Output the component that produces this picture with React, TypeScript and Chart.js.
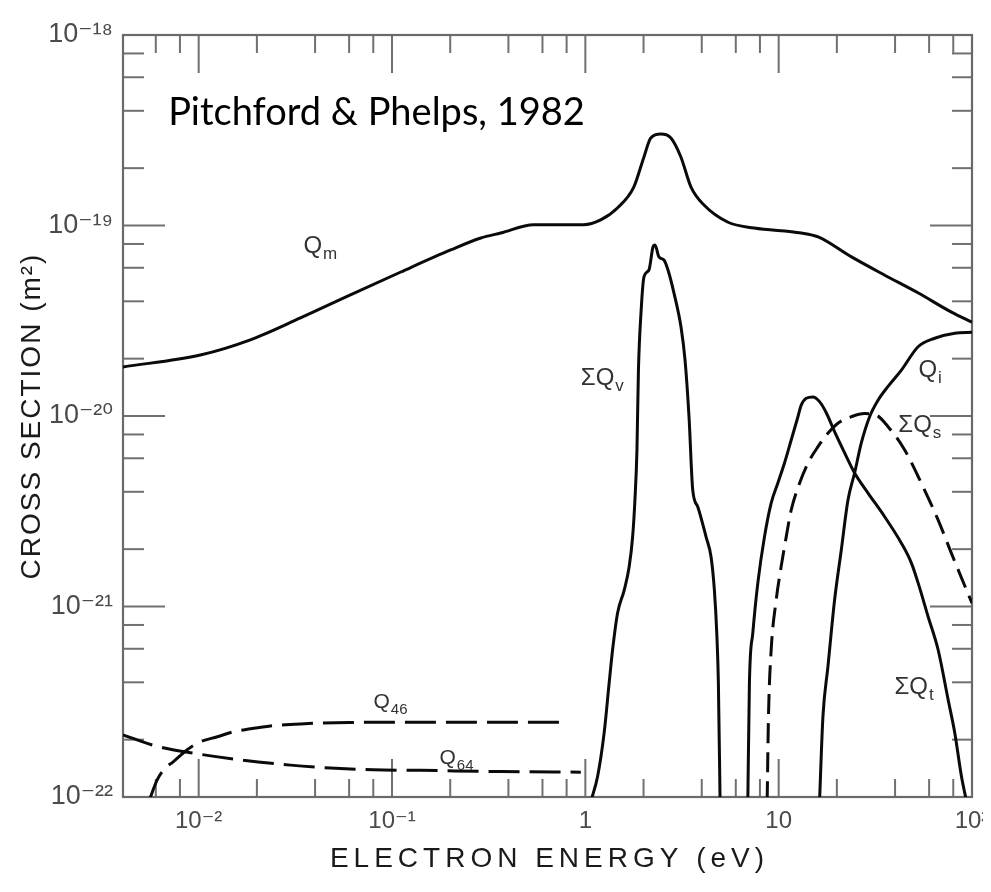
import React, { useEffect, useRef } from "react";
import { Chart, registerables } from "chart.js";

Chart.register(...registerables);

// ---- axes ----
const X_MIN = 0.00406;
const X_MAX = 100;
const Y_MIN = 1e-22;
const Y_MAX = 1e-18;
const X_TICKS = [0.01, 0.1, 1, 10, 100];
const X_TICK_LABELS = ["10⁻²", "10⁻¹", "1", "10", "10²"];
const Y_TICKS = [1e-22, 1e-21, 1e-20, 1e-19, 1e-18];
const Y_TICK_LABELS = ["10⁻²²", "10⁻²¹", "10⁻²⁰", "10⁻¹⁹", "10⁻¹⁸"];
const MINOR_MULTIPLIERS = [2, 4, 6, 8];

// ---- data (energy in eV, cross section in m^2) ----
const qmEnergy = [0.00406, 0.0102, 0.0185, 0.0336, 0.0609, 0.111, 0.201, 0.288, 0.365, 0.541, 0.98, 1.2, 1.47, 1.78, 2.01, 2.18, 2.46, 2.77, 3.12, 3.52, 4.11, 5.47, 7.46, 13.1, 16.0, 23.8, 35.2, 52.8, 78.3, 100];
const qmSigma = [1.81e-20, 2.09e-20, 2.51e-20, 3.27e-20, 4.32e-20, 5.7e-20, 7.44e-20, 8.6e-20, 9.13e-20, 1.01e-19, 1.01e-19, 1.07e-19, 1.24e-19, 1.59e-19, 2.29e-19, 2.88e-19, 3.02e-19, 2.88e-19, 2.29e-19, 1.59e-19, 1.28e-19, 1.04e-19, 9.7e-20, 9.13e-20, 8.71e-20, 6.84e-20, 5.5e-20, 4.42e-20, 3.51e-20, 3.11e-20];

const qvEnergy = [1.068, 1.157, 1.251, 1.328, 1.383, 1.468, 1.589, 1.686, 1.756, 1.805, 1.849, 1.882, 1.94, 2.01, 2.133, 2.238, 2.292, 2.403, 2.551, 2.676, 2.874, 3.125, 3.278, 3.438, 3.593, 3.814, 4.211, 4.47, 4.65, 4.784, 4.877, 4.977];
const qvSigma = [9.5e-23, 1.28e-22, 2.17e-22, 3.97e-22, 5.91e-22, 9.25e-22, 1.22e-21, 1.62e-21, 2.32e-21, 3.62e-21, 6.63e-21, 1.74e-20, 3.47e-20, 5.37e-20, 5.84e-20, 7.71e-20, 7.91e-20, 6.84e-20, 6.59e-20, 5.84e-20, 4.42e-20, 2.93e-20, 1.97e-20, 9.88e-21, 4.09e-21, 3.34e-21, 2.32e-21, 1.82e-21, 1.22e-21, 7.26e-22, 3.97e-22, 9.5e-23];

const qtEnergy = [6.925, 7.058, 7.35, 7.803, 8.443, 9.145, 9.905, 10.72, 11.61, 12.58, 13.08, 13.88, 15.04, 16.27, 17.63, 19.46, 21.93, 24.7, 28.99, 35.33, 43.13, 48.6, 52.63, 59.31, 66.84, 75.31, 81.46, 88.22, 93.66];
const qtSigma = [9.5e-23, 3.97e-22, 7.26e-22, 1.33e-21, 2.32e-21, 3.49e-21, 4.45e-21, 5.67e-21, 7.48e-21, 9.91e-21, 1.14e-20, 1.24e-20, 1.26e-20, 1.19e-20, 1.04e-20, 8.27e-21, 6.4e-21, 5.02e-21, 3.94e-21, 2.96e-21, 2.15e-21, 1.69e-21, 1.33e-21, 8.84e-22, 5.91e-22, 3.23e-22, 2.17e-22, 1.28e-22, 9.5e-23];

const qiEnergy = [16.27, 16.94, 17.98, 19.46, 21.08, 22.83, 24.7, 26.76, 29.54, 32.66, 36.8, 43.13, 52.63, 64.19, 81.46, 100];
const qiSigma = [9.5e-23, 2.64e-22, 4.83e-22, 1.08e-21, 1.98e-21, 3.62e-21, 5.02e-21, 7.22e-21, 9.91e-21, 1.21e-20, 1.43e-20, 1.74e-20, 2.31e-20, 2.56e-20, 2.72e-20, 2.75e-20];

const qsEnergy = [8.719, 8.856, 9.145, 9.706, 10.3, 10.94, 11.61, 12.82, 14.17, 15.97, 17.98, 20.26, 23.74, 27.84, 32.01, 36.8, 44.86, 54.74, 66.84, 78.3, 100];
const qsSigma = [9.5e-23, 2.64e-22, 5.91e-22, 1.08e-21, 1.62e-21, 2.32e-21, 3.21e-21, 4.43e-21, 5.65e-21, 6.9e-21, 8.11e-21, 9.16e-21, 9.91e-21, 1.03e-20, 1.01e-20, 8.79e-21, 6.63e-21, 4.43e-21, 2.84e-21, 1.9e-21, 1.04e-21];

const q46Energy = [0.00555, 0.0061, 0.00671, 0.00738, 0.00872, 0.0102, 0.0125, 0.0151, 0.0185, 0.0235, 0.0336, 0.061, 0.111, 0.201, 0.365, 0.755];
const q46Sigma = [9.6e-23, 1.23e-22, 1.42e-22, 1.53e-22, 1.77e-22, 1.95e-22, 2.07e-22, 2.2e-22, 2.28e-22, 2.36e-22, 2.42e-22, 2.46e-22, 2.47e-22, 2.47e-22, 2.47e-22, 2.47e-22];

const q64Energy = [0.00406, 0.00581, 0.00936, 0.017, 0.0298, 0.048, 0.0802, 0.1405, 0.365, 0.948];
const q64Sigma = [2.12e-22, 1.87e-22, 1.7e-22, 1.56e-22, 1.47e-22, 1.42e-22, 1.39e-22, 1.38e-22, 1.36e-22, 1.35e-22];

// ---- annotations (anchor in data units: energy, cross section) ----
const CURVE_LABELS = [
  { main: "Q", sub: "m", e: 0.0348, s: 7.17e-20 },
  { main: "ΣQ", sub: "v", e: 0.948, s: 1.46e-20 },
  { main: "Q", sub: "i", e: 52.8, s: 1.6e-20 },
  { main: "ΣQ", sub: "s", e: 41.6, s: 8.24e-21 },
  { main: "ΣQ", sub: "t", e: 39.7, s: 3.47e-22 },
  { main: "Q", sub: "46", e: 0.0802, s: 2.93e-22 },
  { main: "Q", sub: "64", e: 0.176, s: 1.49e-22 },
];
const CITATION = { text: "Pitchford & Phelps, 1982", e: 0.00695, s: 3.37e-19 };
const X_TITLE = "ELECTRON ENERGY (eV)";
const Y_TITLE = "CROSS SECTION (m²)";

const TICK_FONT = '"Liberation Sans Narrow", "Liberation Sans", "DejaVu Sans", sans-serif';
const TEXT_FONT = '"Liberation Sans", "DejaVu Sans", sans-serif';

const zip = (xs: number[], ys: number[]) => xs.map((x, i) => ({ x, y: ys[i] }));

function minorValues(min: number, max: number) {
  const out: number[] = [];
  for (let k = Math.floor(Math.log10(min)); k <= Math.ceil(Math.log10(max)); k++) {
    for (const m of MINOR_MULTIPLIERS) {
      const v = m * Math.pow(10, k);
      if (v > min && v < max) out.push(v);
    }
  }
  return out;
}

const framePlugin = {
  id: "frameTicks",
  beforeDatasetsDraw(chart: any) {
    const { ctx, chartArea: a, scales } = chart;
    const xs = scales.x;
    const ys = scales.y;
    ctx.save();
    ctx.strokeStyle = "#707070";
    ctx.lineWidth = 2;
    ctx.lineCap = "butt";
    const seg = (x1: number, y1: number, x2: number, y2: number) => {
      ctx.beginPath();
      ctx.moveTo(x1, y1);
      ctx.lineTo(x2, y2);
      ctx.stroke();
    };
    X_TICKS.forEach((v) => {
      const p = xs.getPixelForValue(v);
      seg(p, a.bottom, p, a.bottom - 38);
      seg(p, a.top, p, a.top + 38);
    });
    minorValues(X_MIN, X_MAX).forEach((v) => {
      const p = xs.getPixelForValue(v);
      seg(p, a.bottom, p, a.bottom - 18);
      seg(p, a.top, p, a.top + 18);
    });
    Y_TICKS.forEach((v) => {
      const p = ys.getPixelForValue(v);
      seg(a.left, p, a.left + 42, p);
      seg(a.right, p, a.right - 42, p);
    });
    minorValues(Y_MIN, Y_MAX).forEach((v) => {
      const p = ys.getPixelForValue(v);
      seg(a.left, p, a.left + 21, p);
      seg(a.right, p, a.right - 20, p);
    });
    ctx.strokeStyle = "#6a6a6a";
    ctx.lineWidth = 2.2;
    ctx.strokeRect(a.left, a.top, a.right - a.left, a.bottom - a.top);
    ctx.restore();
  },
  afterDraw(chart: any) {
    const { ctx, chartArea: a, scales } = chart;
    const xs = scales.x;
    const ys = scales.y;
    ctx.save();
    // curve labels
    ctx.fillStyle = "#333";
    ctx.textBaseline = "alphabetic";
    ctx.textAlign = "left";
    CURVE_LABELS.forEach((l) => {
      const px = xs.getPixelForValue(l.e);
      const py = ys.getPixelForValue(l.s);
      const big = l.sub.length > 1 ? 21 : 24;
      ctx.font = `${big}px ${TEXT_FONT}`;
      ctx.fillText(l.main, px, py);
      const w = ctx.measureText(l.main).width;
      ctx.font = `${Math.round(big * 0.72)}px ${TEXT_FONT}`;
      ctx.fillText(l.sub, px + w + 1, py + 6);
    });
    // citation
    ctx.fillStyle = "#000";
    ctx.font = `38px Lato, "Open Sans", sans-serif`;
    ctx.fillText(CITATION.text, xs.getPixelForValue(CITATION.e), ys.getPixelForValue(CITATION.s));
    // axis titles
    ctx.fillStyle = "#1a1a1a";
    ctx.textAlign = "center";
    (ctx as any).letterSpacing = "5px";
    ctx.font = `28px ${TEXT_FONT}`;
    ctx.fillText(X_TITLE, (a.left + a.right) / 2 + 2, a.bottom + 70);
    (ctx as any).letterSpacing = "2px";
    ctx.translate(a.left - 91, (a.top + a.bottom) / 2);
    ctx.rotate(-Math.PI / 2);
    ctx.textBaseline = "middle";
    ctx.font = `28px ${TEXT_FONT}`;
    ctx.fillText(Y_TITLE, 0, 0);
    ctx.restore();
  },
};

export default function App() {
  const ref = useRef<HTMLCanvasElement | null>(null);
  useEffect(() => {
    if (!ref.current) return;
    const line = (data: any, dash: number[] = []) => ({
      data,
      showLine: true,
      borderColor: "#0a0a0a",
      borderWidth: 3,
      borderDash: dash,
      pointRadius: 0,
      pointHoverRadius: 0,
      fill: false,
      cubicInterpolationMode: "monotone" as const,
    });
    const chart = new Chart(ref.current, {
      type: "scatter",
      data: {
        datasets: [
          { label: "Qm", ...line(zip(qmEnergy, qmSigma)) },
          { label: "ΣQv", ...line(zip(qvEnergy, qvSigma)) },
          { label: "ΣQt", ...line(zip(qtEnergy, qtSigma)) },
          { label: "Qi", ...line(zip(qiEnergy, qiSigma)) },
          { label: "ΣQs", ...line(zip(qsEnergy, qsSigma), [20, 9]) },
          { label: "Q46", ...line(zip(q46Energy, q46Sigma), [31, 10]) },
          { label: "Q64", ...line(zip(q64Energy, q64Sigma), [31, 10]) },
        ] as any,
      },
      options: {
        animation: false,
        responsive: false,
        devicePixelRatio: 1,
        events: [],
        layout: { padding: { top: 27, right: 19, left: 0, bottom: 0 } },
        plugins: {
          legend: { display: false },
          tooltip: { enabled: false },
          title: { display: false },
        },
        scales: {
          x: {
            type: "logarithmic",
            min: X_MIN,
            max: X_MAX,
            grid: { display: false, drawTicks: false },
            border: { display: false },
            afterBuildTicks: (s: any) => {
              s.ticks = X_TICKS.map((v) => ({ value: v }));
            },
            afterFit: (s: any) => {
              s.height = 87;
              s.paddingLeft = 0;
              s.paddingRight = 0;
            },
            ticks: {
              autoSkip: false,
              maxRotation: 0,
              minRotation: 0,
              padding: 10,
              color: "#4a4a4a",
              font: { family: TICK_FONT, size: 24 },
              callback: (_v: any, i: number) => X_TICK_LABELS[i],
            },
          },
          y: {
            type: "logarithmic",
            min: Y_MIN,
            max: Y_MAX,
            grid: { display: false, drawTicks: false },
            border: { display: false },
            afterBuildTicks: (s: any) => {
              s.ticks = Y_TICKS.map((v) => ({ value: v }));
            },
            afterFit: (s: any) => {
              s.width = 115;
              s.paddingTop = 0;
              s.paddingBottom = 0;
            },
            ticks: {
              autoSkip: false,
              padding: 10,
              color: "#4a4a4a",
              font: { family: TICK_FONT, size: 27 },
              callback: (_v: any, i: number) => Y_TICK_LABELS[i],
            },
          },
        },
      } as any,
      plugins: [framePlugin],
    });
    return () => chart.destroy();
  }, []);
  return (
    <div style={{ width: 983, height: 876 }}>
      <canvas ref={ref} width={983} height={876} style={{ display: "block" }} />
    </div>
  );
}
